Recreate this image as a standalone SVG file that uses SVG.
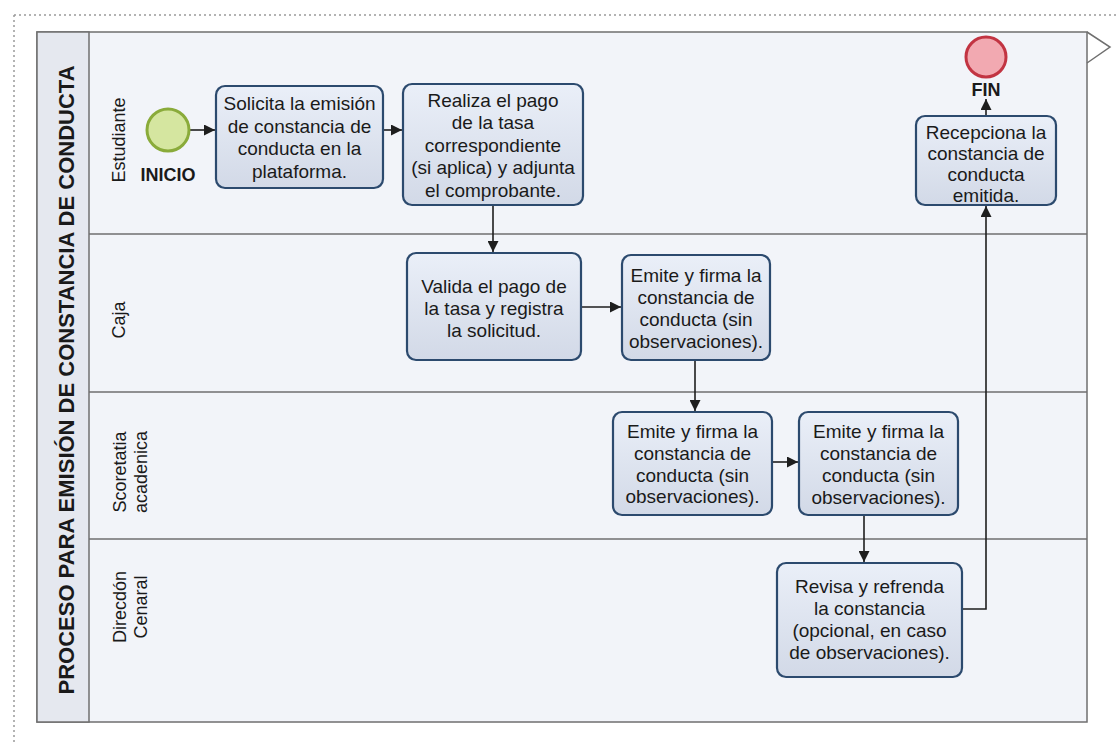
<svg xmlns="http://www.w3.org/2000/svg" width="1116" height="745" viewBox="0 0 1116 745">
<defs>
<linearGradient id="boxg" x1="0" y1="0" x2="0" y2="1">
<stop offset="0" stop-color="#eaeff8"/>
<stop offset="1" stop-color="#d2d9e7"/>
</linearGradient>
<marker id="arr" viewBox="0 0 10 10" refX="10" refY="5" markerWidth="11" markerHeight="11" markerUnits="userSpaceOnUse" orient="auto">
<path d="M0,0 L10,5 L0,10 z" fill="#1e1e1e"/>
</marker>
<style>
.box{fill:url(#boxg);stroke:#2c4a6e;stroke-width:2.2}
.t{font-family:"Liberation Sans",Arial,sans-serif;font-size:19px;fill:#1a1a1a;text-anchor:middle}
.lane{font-family:"Liberation Sans",Arial,sans-serif;font-size:18px;fill:#1a1a1a;text-anchor:middle}
.bold{font-family:"Liberation Sans",Arial,sans-serif;font-weight:bold;fill:#1a1a1a;text-anchor:middle}
.conn{fill:none;stroke:#1e1e1e;stroke-width:1.6;marker-end:url(#arr)}
.sep{stroke:#6f6f6f;stroke-width:1.5}
</style>
</defs>
<rect width="1116" height="745" fill="#ffffff"/>
<g id="frame">
<path d="M14,15 H1116 M14,15 V745" stroke="#9a9a9a" stroke-width="1.5" stroke-dasharray="2,3" fill="none"/>
</g>
<g id="pool">
<rect x="37" y="32" width="1050" height="690" fill="#f2f4f9" stroke="#6f6f6f" stroke-width="1.5"/>
<rect x="37" y="32" width="52" height="690" fill="#e5e8ef" stroke="#6f6f6f" stroke-width="1.5"/>
<line class="sep" x1="89" y1="234" x2="1087" y2="234"/>
<line class="sep" x1="89" y1="392" x2="1087" y2="392"/>
<line class="sep" x1="89" y1="539" x2="1087" y2="539"/>
<path d="M1087,32 L1110,47 L1087,63" fill="none" stroke="#6f6f6f" stroke-width="1.5"/>
<text class="bold" font-size="22" transform="translate(66,380) rotate(-90)" dominant-baseline="central">PROCESO PARA EMISIÓN DE CONSTANCIA DE CONDUCTA</text>
</g>
<g id="lane-labels">
<text class="lane" transform="translate(118,140) rotate(-90)" y="7">Estudiante</text>
<text class="lane" transform="translate(118,320) rotate(-90)" y="7">Caja</text>
<text class="lane" transform="translate(118,472) rotate(-90)"><tspan x="0" y="8">Scoretatia</tspan><tspan x="0" y="29">acadenica</tspan></text>
<text class="lane" transform="translate(118,607) rotate(-90)"><tspan x="0" y="8">Direcdón</tspan><tspan x="0" y="29">Cenaral</tspan></text>
</g>
<g id="connectors">
<line class="conn" x1="190" y1="130" x2="215" y2="130"/>
<line class="conn" x1="383" y1="130" x2="402" y2="130"/>
<line class="conn" x1="493" y1="205" x2="493" y2="252"/>
<line class="conn" x1="581" y1="307" x2="621" y2="307"/>
<line class="conn" x1="695" y1="360" x2="695" y2="411"/>
<line class="conn" x1="772" y1="462" x2="798" y2="462"/>
<line class="conn" x1="864" y1="515" x2="864" y2="562"/>
<path class="conn" d="M962,609 H986 V206"/>
<line class="conn" x1="986" y1="116" x2="986" y2="99"/>
</g>
<g id="inicio">
<circle cx="168" cy="130" r="21" fill="#d5e6a0" stroke="#8aab3a" stroke-width="3"/>
<text class="bold" font-size="18" x="168" y="181">INICIO</text>
</g>
<g id="fin">
<circle cx="986" cy="57" r="20" fill="#f2a9b1" stroke="#c23442" stroke-width="3"/>
<text class="bold" font-size="18" x="986" y="96">FIN</text>
</g>
<g id="n1">
<rect class="box" x="216" y="86" width="167" height="102" rx="9"/>
<text class="t"><tspan x="299.5" y="110">Solicita la emisión</tspan><tspan x="299.5" y="133">de constancia de</tspan><tspan x="299.5" y="155">conducta en la</tspan><tspan x="299.5" y="178">plataforma.</tspan></text>
</g>
<g id="n2">
<rect class="box" x="403" y="84" width="180" height="121" rx="9"/>
<text class="t"><tspan x="493" y="107">Realiza el pago</tspan><tspan x="493" y="129">de la tasa</tspan><tspan x="493" y="152">correspondiente</tspan><tspan x="493" y="174">(si aplica) y adjunta</tspan><tspan x="493" y="197">el comprobante.</tspan></text>
</g>
<g id="n3">
<rect class="box" x="407" y="253" width="174" height="107" rx="9"/>
<text class="t"><tspan x="494" y="293">Valida el pago de</tspan><tspan x="494" y="315">la tasa y registra</tspan><tspan x="494" y="337">la solicitud.</tspan></text>
</g>
<g id="n4">
<rect class="box" x="622" y="255" width="148" height="105" rx="9"/>
<text class="t"><tspan x="696" y="282">Emite y firma la</tspan><tspan x="696" y="304">constancia de</tspan><tspan x="696" y="326">conducta (sin</tspan><tspan x="696" y="348">observaciones).</tspan></text>
</g>
<g id="n5">
<rect class="box" x="613" y="412" width="159" height="103" rx="9"/>
<text class="t"><tspan x="692.5" y="438">Emite y firma la</tspan><tspan x="692.5" y="460">constancia de</tspan><tspan x="692.5" y="482">conducta (sin</tspan><tspan x="692.5" y="503">observaciones).</tspan></text>
</g>
<g id="n6">
<rect class="box" x="799" y="412" width="159" height="103" rx="9"/>
<text class="t"><tspan x="878.5" y="438">Emite y firma la</tspan><tspan x="878.5" y="460">constancia de</tspan><tspan x="878.5" y="482">conducta (sin</tspan><tspan x="878.5" y="504">observaciones).</tspan></text>
</g>
<g id="n7">
<rect class="box" x="777" y="563" width="185" height="114" rx="9"/>
<text class="t"><tspan x="869.5" y="593">Revisa y refrenda</tspan><tspan x="869.5" y="615">la constancia</tspan><tspan x="869.5" y="637">(opcional, en caso</tspan><tspan x="869.5" y="659">de observaciones).</tspan></text>
</g>
<g id="n8">
<rect class="box" x="916" y="116" width="140" height="89" rx="9"/>
<text class="t"><tspan x="986" y="139">Recepciona la</tspan><tspan x="986" y="160">constancia de</tspan><tspan x="986" y="181">conducta</tspan><tspan x="986" y="202">emitida.</tspan></text>
</g>
</svg>
